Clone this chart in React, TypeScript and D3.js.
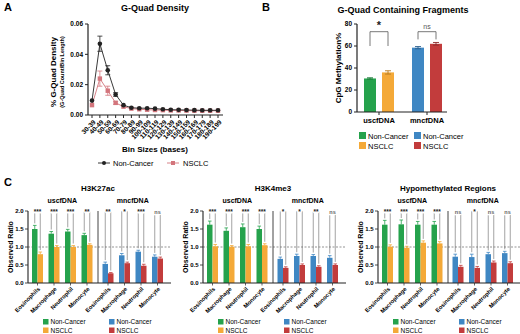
import * as d3 from "d3";

// Panel A: G-Quad density by bin size
const bins = ["30-39", "40-49", "50-59", "60-69", "70-79", "80-89", "90-99", "100-109", "110-119", "120-129", "130-139", "140-149", "150-159", "160-169", "170-179", "180-189", "190-199"];
const gqNonCancer = [0.0095, 0.047, 0.0295, 0.0135, 0.0065, 0.0048, 0.0045, 0.0045, 0.0042, 0.0038, 0.0035, 0.0034, 0.0033, 0.0032, 0.0031, 0.0031, 0.0031];
const gqNonCancerErr = [0.0006, 0.005, 0.003, 0.0012, 0.0006, 0.0004, 0.0003, 0.0003, 0.0003, 0.0003, 0.0002, 0.0002, 0.0002, 0.0002, 0.0002, 0.0002, 0.0002];
const gqNsclc = [0.0065, 0.024, 0.016, 0.008, 0.0055, 0.0042, 0.0038, 0.0035, 0.0033, 0.0032, 0.003, 0.003, 0.0029, 0.0028, 0.0028, 0.0028, 0.0028];
const gqNsclcErr = [0.0006, 0.005, 0.003, 0.001, 0.0005, 0.0003, 0.0003, 0.0003, 0.0003, 0.0002, 0.0002, 0.0002, 0.0002, 0.0002, 0.0002, 0.0002, 0.0002];
const gqTicks = [0, 0.02, 0.04, 0.06];

// Panel B: G-Quad containing fragments
const fragGroups = ["uscfDNA", "mncfDNA"];
const fragNonCancer = [30.5, 58.5];
const fragNonCancerErr = [0.6, 1.0];
const fragNsclc = [36, 62];
const fragNsclcErr = [1.5, 1.2];
const fragSig = ["*", "ns"];
const fragLegEnd = [60, 66];
const fragTicks = [0, 20, 40, 60, 80];

// Panel C: observed ratios
const cells = ["Eosinophils", "Macrophage", "Neutrophil", "Monocyte"];
const markTitles = ["H3K27ac", "H3K4me3", "Hypomethylated Regions"];
const uscfNonCancer = [[1.5, 1.37, 1.43, 1.33], [1.62, 1.45, 1.55, 1.5], [1.62, 1.63, 1.62, 1.62]];
const uscfNonCancerErr = [[0.1, 0.06, 0.06, 0.05], [0.1, 0.08, 0.09, 0.08], [0.12, 0.12, 0.09, 0.09]];
const uscfNsclc = [[0.8, 1.0, 1.0, 1.06], [1.02, 1.01, 1.02, 1.05], [1.01, 0.98, 1.12, 1.1]];
const uscfNsclcErr = [[0.06, 0.04, 0.04, 0.03], [0.05, 0.03, 0.05, 0.04], [0.05, 0.04, 0.05, 0.05]];
const mncNonCancer = [[0.53, 0.77, 0.87, 0.73], [0.67, 0.75, 0.75, 0.7], [0.73, 0.72, 0.8, 0.83]];
const mncNonCancerErr = [[0.05, 0.05, 0.04, 0.05], [0.05, 0.05, 0.04, 0.06], [0.07, 0.08, 0.05, 0.05]];
const mncNsclc = [[0.27, 0.55, 0.48, 0.68], [0.42, 0.5, 0.45, 0.5], [0.45, 0.42, 0.57, 0.55]];
const mncNsclcErr = [[0.02, 0.03, 0.04, 0.04], [0.03, 0.03, 0.03, 0.03], [0.04, 0.04, 0.04, 0.04]];
const uscfSig = [["***", "***", "***", "**"], ["***", "***", "***", "***"], ["***", "***", "***", "***"]];
const mncSig = [["**", "*", "***", "ns"], ["*", "*", "**", "ns"], ["ns", "*", "ns", "ns"]];
const ratioTicks = [0, 0.5, 1, 1.5, 2];

const FONT = "'Liberation Sans', Arial, sans-serif";
const GREEN = "#25a24c";
const ORANGE = "#f4a938";
const BLUE = "#3f87c3";
const RED = "#c23c3c";
const DARK = "#222";
const PINK = "#d3757c";

const PanelA = () => {
  const x = d3.scalePoint().domain(bins).range([92, 218]);
  const y = d3.scaleLinear().domain([0, 0.06]).range([115, 24]);
  const line = d3.line<number>().x((_, i) => x(bins[i])!).y((d) => y(d));
  const series = [
    { vals: gqNsclc, err: gqNsclcErr, color: PINK, sq: true },
    { vals: gqNonCancer, err: gqNonCancerErr, color: DARK, sq: false },
  ];
  return (
    <g>
      <text x={4} y={11} fontSize={11} fontWeight="bold">A</text>
      <text x={155} y={11} fontSize={9} fontWeight="bold" textAnchor="middle">G-Quad Density</text>
      <text transform="translate(56,72) rotate(-90)" fontSize={8} fontWeight="bold" textAnchor="middle">% G-Quad Density</text>
      <text transform="translate(64,72) rotate(-90)" fontSize={5.5} fontWeight="bold" textAnchor="middle">(G-Quad Count/Bin Length)</text>
      <line x1={88} x2={88} y1={y(0.06)} y2={115} stroke={DARK} strokeWidth={1.2} />
      <line x1={88} x2={223} y1={115} y2={115} stroke={DARK} strokeWidth={1.2} />
      {gqTicks.map((t) => (
        <g key={t}>
          <line x1={85} x2={88} y1={y(t)} y2={y(t)} stroke={DARK} />
          <text x={83} y={y(t) + 2.3} fontSize={6.5} fontWeight="bold" textAnchor="end">{t.toFixed(2)}</text>
        </g>
      ))}
      {bins.map((b) => (
        <g key={b}>
          <line x1={x(b)} x2={x(b)} y1={115} y2={118} stroke={DARK} />
          <text transform={`translate(${x(b)! + 2.5},${121}) rotate(-45)`} fontSize={6.6} fontWeight="bold" textAnchor="end" dy="0.35em">{b}</text>
        </g>
      ))}
      {series.map((s, si) => (
        <g key={si}>
          <path d={line(s.vals)!} fill="none" stroke={s.color} strokeWidth={0.9} />
          {s.vals.map((v, i) => (
            <g key={i} stroke={s.color} strokeWidth={0.8}>
              {s.err[i] > 0.0008 && (
                <>
                  <line x1={x(bins[i])} x2={x(bins[i])} y1={y(v - s.err[i])} y2={y(v + s.err[i])} />
                  <line x1={x(bins[i])! - 2.5} x2={x(bins[i])! + 2.5} y1={y(v + s.err[i])} y2={y(v + s.err[i])} />
                  <line x1={x(bins[i])! - 2.5} x2={x(bins[i])! + 2.5} y1={y(v - s.err[i])} y2={y(v - s.err[i])} />
                </>
              )}
              {s.sq ? (
                <rect x={x(bins[i])! - 2.2} y={y(v) - 2.2} width={4.4} height={4.4} fill={s.color} stroke="none" />
              ) : (
                <circle cx={x(bins[i])} cy={y(v)} r={2.3} fill={s.color} stroke="none" />
              )}
            </g>
          ))}
        </g>
      ))}
      <text x={155} y={152} fontSize={8} fontWeight="bold" textAnchor="middle">Bin Sizes (bases)</text>
      <line x1={98} x2={110} y1={163} y2={163} stroke={DARK} strokeWidth={0.9} />
      <circle cx={104} cy={163} r={2} fill={DARK} />
      <text x={113} y={166} fontSize={7.5}>Non-Cancer</text>
      <line x1={167} x2={179} y1={163} y2={163} stroke={PINK} strokeWidth={0.9} />
      <rect x={171} y={161} width={4} height={4} fill={PINK} />
      <text x={183} y={166} fontSize={7.5}>NSCLC</text>
    </g>
  );
};

const PanelB = () => {
  const y = d3.scaleLinear().domain([0, 80]).range([112, 24]);
  const gx = d3.scaleBand().domain(fragGroups).range([355, 451]);
  const sx = d3.scaleBand().domain(["nc", "ns"]).range([9, 39]).paddingInner(1 / 3);
  const cols = [[GREEN, ORANGE], [BLUE, RED]];
  const errCols = [["#1c7a39", "#b97c20"], ["#2a5f8d", "#8c2a2a"]];
  return (
    <g>
      <text x={262} y={11} fontSize={11} fontWeight="bold">B</text>
      <text x={403} y={13} fontSize={9} fontWeight="bold" textAnchor="middle">G-Quad Containing Fragments</text>
      <text transform="translate(341,68) rotate(-90)" fontSize={8} fontWeight="bold" textAnchor="middle">CpG Methylation%</text>
      {fragGroups.map((g, gi) => {
        const vals = [fragNonCancer[gi], fragNsclc[gi]];
        const errs = [fragNonCancerErr[gi], fragNsclcErr[gi]];
        const cx = ["nc", "ns"].map((k) => gx(g)! + sx(k)! + sx.bandwidth() / 2);
        const top = y(73);
        return (
          <g key={g}>
            {vals.map((v, k) => (
              <g key={k}>
                <rect x={cx[k] - sx.bandwidth() / 2} y={y(v)} width={sx.bandwidth()} height={y(0) - y(v)} fill={cols[gi][k]} />
                <g stroke={errCols[gi][k]} strokeWidth={0.9}>
                  <line x1={cx[k]} x2={cx[k]} y1={y(v - errs[k])} y2={y(v + errs[k])} />
                  <line x1={cx[k] - 3} x2={cx[k] + 3} y1={y(v + errs[k])} y2={y(v + errs[k])} />
                  <line x1={cx[k] - 3} x2={cx[k] + 3} y1={y(v - errs[k])} y2={y(v - errs[k])} />
                </g>
              </g>
            ))}
            <path d={`M${cx[0]},${y(fragLegEnd[gi])}V${top}H${cx[1]}V${y(fragLegEnd[gi])}`} fill="none" stroke="#555" strokeWidth={0.8} />
            <text x={gx(g)! + gx.bandwidth() / 2} y={top - 3} fontSize={fragSig[gi] === "*" ? 11 : 7} fontWeight={fragSig[gi] === "*" ? "bold" : "normal"} textAnchor="middle" fill={fragSig[gi] === "*" ? DARK : "#555"}>{fragSig[gi]}</text>
            <line x1={gx(g)! + gx.bandwidth() / 2} x2={gx(g)! + gx.bandwidth() / 2} y1={112} y2={115} stroke={DARK} />
            <text x={gx(g)! + gx.bandwidth() / 2} y={123} fontSize={7.5} fontWeight="bold" textAnchor="middle">{g}</text>
          </g>
        );
      })}
      <line x1={357} x2={357} y1={24} y2={112} stroke={DARK} strokeWidth={1.2} />
      <line x1={357} x2={447} y1={112} y2={112} stroke={DARK} strokeWidth={1.2} />
      {fragTicks.map((t) => (
        <g key={t}>
          <line x1={354} x2={357} y1={y(t)} y2={y(t)} stroke={DARK} />
          <text x={352} y={y(t) + 2.3} fontSize={6.5} fontWeight="bold" textAnchor="end">{t}</text>
        </g>
      ))}
      {[[GREEN, "Non-Cancer", 359, 132], [ORANGE, "NSCLC", 359, 142], [BLUE, "Non-Cancer", 414, 132], [RED, "NSCLC", 414, 142]].map(([c, l, lx, ly], i) => (
        <g key={i}>
          <rect x={lx as number} y={ly as number} width={7} height={7} fill={c as string} />
          <text x={(lx as number) + 9} y={(ly as number) + 6.5} fontSize={7.5}>{l}</text>
        </g>
      ))}
    </g>
  );
};

const SubC = ({ idx, x0 }: { idx: number; x0: number }) => {
  const y = d3.scaleLinear().domain([0, 2]).range([283, 211]);
  const sep = x0 + 70;
  const xEnd = x0 + 143;
  const ux = d3.scaleBand().domain(cells).range([x0 + 1.25, x0 + 67.25]);
  const mx = d3.scaleBand().domain(cells).range([sep + 1.75, sep + 67.75]);
  const sx = d3.scaleBand().domain(["nc", "ns"]).range([0, ux.bandwidth()]).paddingOuter(0.5);
  const groups = [
    { sc: ux, a: uscfNonCancer[idx], ae: uscfNonCancerErr[idx], b: uscfNsclc[idx], be: uscfNsclcErr[idx], sig: uscfSig[idx], cols: [GREEN, ORANGE], label: "uscfDNA" },
    { sc: mx, a: mncNonCancer[idx], ae: mncNonCancerErr[idx], b: mncNsclc[idx], be: mncNsclcErr[idx], sig: mncSig[idx], cols: [BLUE, RED], label: "mncfDNA" },
  ];
  const bw = sx.bandwidth();
  return (
    <g>
      <text x={x0 + 70} y={191} fontSize={8} fontWeight="bold" textAnchor="middle">{markTitles[idx]}</text>
      <text transform={`translate(${x0 - 15},247) rotate(-90)`} fontSize={7} fontWeight="bold" textAnchor="middle">Observed Ratio</text>
      {groups.map((g) => (
        <text key={g.label} x={g.sc(cells[0])! + (g.sc(cells[3])! + g.sc.bandwidth() - g.sc(cells[0])!) / 2} y={203} fontSize={7} fontWeight="bold" textAnchor="middle">{g.label}</text>
      ))}
      <line x1={x0} x2={xEnd} y1={y(1)} y2={y(1)} stroke="#666" strokeWidth={0.7} strokeDasharray="2,1.5" />
      {groups.map((g) =>
        cells.map((c, i) => {
          const vals = [g.a[i], g.b[i]];
          const errs = [g.ae[i], g.be[i]];
          const cx = ["nc", "ns"].map((k) => g.sc(c)! + sx(k)! + bw / 2);
          const top = y(1.99);
          const mid = g.sc(c)! + g.sc.bandwidth() / 2;
          return (
            <g key={g.label + c}>
              {vals.map((v, k) => (
                <g key={k}>
                  <rect x={cx[k] - bw / 2} y={y(v)} width={bw} height={y(0) - y(v)} fill={g.cols[k]} />
                  <g stroke={g.cols[k]} strokeWidth={0.8}>
                    <line x1={cx[k]} x2={cx[k]} y1={y(v)} y2={y(v + errs[k])} />
                    <line x1={cx[k] - 1.8} x2={cx[k] + 1.8} y1={y(v + errs[k])} y2={y(v + errs[k])} />
                  </g>
                </g>
              ))}
              <path d={`M${cx[0]},${y(vals[0] + errs[0]) - 2}V${top}H${cx[1]}V${y(vals[1] + errs[1]) - 2}`} fill="none" stroke="#666" strokeWidth={0.6} />
              <text x={mid} y={top + 2.2} fontSize={g.sig[i] === "ns" ? 5.5 : 6.5} fontWeight="bold" textAnchor="middle" fill={g.sig[i] === "ns" ? "#666" : DARK} stroke="#fff" strokeWidth={2.5} paintOrder="stroke">{g.sig[i]}</text>
              <line x1={mid} x2={mid} y1={283} y2={285.5} stroke={DARK} strokeWidth={0.7} />
              <text transform={`translate(${mid + 1.5},288) rotate(-45)`} fontSize={5.8} fontWeight="bold" textAnchor="end" dy="0.35em">{c}</text>
            </g>
          );
        })
      )}
      <line x1={sep} x2={sep} y1={y(2)} y2={283} stroke="#444" strokeWidth={1} />
      <line x1={x0} x2={x0} y1={y(2)} y2={283} stroke={DARK} strokeWidth={1.1} />
      <line x1={x0} x2={xEnd} y1={283} y2={283} stroke={DARK} strokeWidth={1.1} />
      {ratioTicks.map((t) => (
        <g key={t}>
          <line x1={x0 - 3} x2={x0} y1={y(t)} y2={y(t)} stroke={DARK} strokeWidth={0.8} />
          <text x={x0 - 4.5} y={y(t) + 2.2} fontSize={6} fontWeight="bold" textAnchor="end">{t.toFixed(1)}</text>
        </g>
      ))}
      {[[GREEN, "Non-Cancer", 15, 319], [ORANGE, "NSCLC", 15, 327.5], [BLUE, "Non-Cancer", 81, 319], [RED, "NSCLC", 81, 327.5]].map(([c, l, dx, ly], i) => (
        <g key={i}>
          <rect x={x0 + (dx as number)} y={ly as number} width={5.5} height={5.5} fill={c as string} />
          <text x={x0 + (dx as number) + 7.5} y={(ly as number) + 5} fontSize={6.5}>{l}</text>
        </g>
      ))}
    </g>
  );
};

export default function App() {
  return (
    <svg width={520} height={334} style={{ position: "absolute", left: 0, top: 0, background: "#fff" }} fontFamily={FONT}>
      <rect width={520} height={334} fill="#fff" />
      <PanelA />
      <PanelB />
      <text x={4} y={186} fontSize={11} fontWeight="bold">C</text>
      <SubC idx={0} x0={28} />
      <SubC idx={1} x0={203} />
      <SubC idx={2} x0={378} />
    </svg>
  );
}
